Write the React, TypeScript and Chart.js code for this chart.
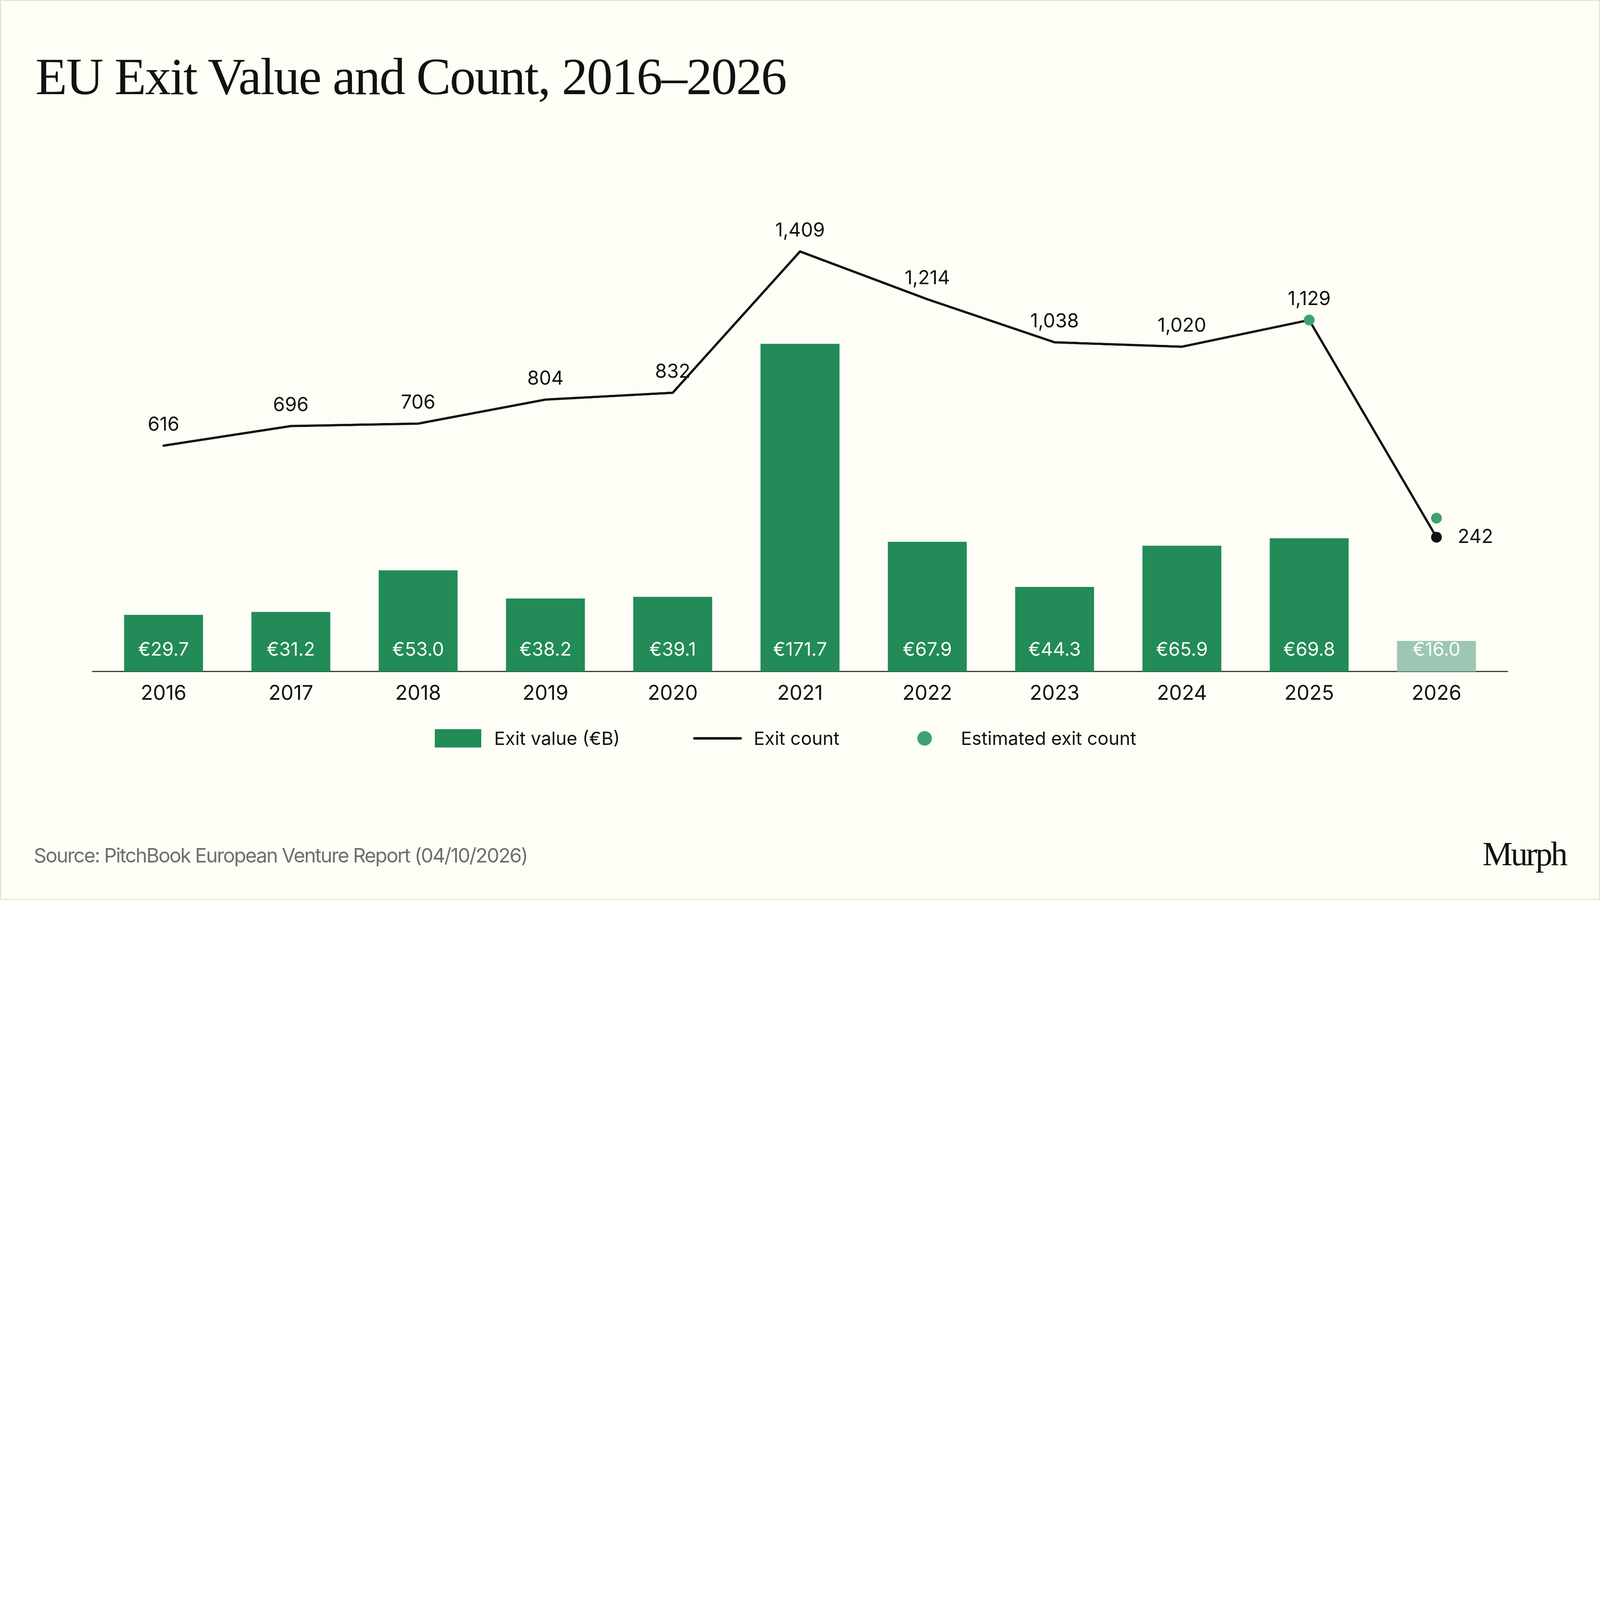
import React, { useEffect, useRef, useState } from 'react';
import Chart from 'chart.js/auto';

// values
const years = ['2016', '2017', '2018', '2019', '2020', '2021', '2022', '2023', '2024', '2025', '2026'];
const exitValue = [29.7, 31.2, 53.0, 38.2, 39.1, 171.7, 67.9, 44.3, 65.9, 69.8, 16.0];
const exitCount = [616, 696, 706, 804, 832, 1409, 1214, 1038, 1020, 1129, 242];
const estimatedCount = [null, null, null, null, null, null, null, null, null, 1129, 320];
const seriesLabels = ['Exit value (€B)', 'Exit count', 'Estimated exit count'];

const GREEN = '#228b57';
const GREEN_LIGHT = '#9dc7b2';
const DOT_GREEN = '#3fa173';
const INK = '#111111';
const CREAM = '#fefef6';
const SANS = 'Inter, "Noto Sans", sans-serif';
const SERIF = '"Liberation Serif", "DejaVu Serif", serif';

// the design is laid out on a 7680 x 4320 board and scaled to the window
const BOARD_W = 7680;
const BOARD_H = 4320;

const lastIndex = years.length - 1;

const labelPlugin = {
  id: 'valueLabels',
  beforeDatasetsDraw(chart: any) {
    // baseline rule under the bars, a bit wider than the plot area
    const { ctx, chartArea } = chart;
    const y = chart.scales.y.getPixelForValue(0);
    ctx.save();
    ctx.strokeStyle = '#222222';
    ctx.lineWidth = 5;
    ctx.beginPath();
    ctx.moveTo(chartArea.left - 38, y);
    ctx.lineTo(chartArea.right + 38, y);
    ctx.stroke();
    ctx.restore();
  },
  afterDatasetsDraw(chart: any) {
    const ctx = chart.ctx;
    const base = chart.scales.y.getPixelForValue(0);
    ctx.save();
    ctx.textBaseline = 'middle';
    ctx.font = `400 90px ${SANS}`;
    ctx.textAlign = 'center';
    ctx.fillStyle = '#ffffff';
    chart.getDatasetMeta(0).data.forEach((bar: any, i: number) => {
      ctx.fillText(`€${exitValue[i].toFixed(1)}`, bar.x, base - 103);
    });
    ctx.fillStyle = INK;
    ctx.font = `400 92px ${SANS}`;
    chart.getDatasetMeta(1).data.forEach((pt: any, i: number) => {
      const text = exitCount[i].toLocaleString('en-US');
      if (i === lastIndex) {
        ctx.textAlign = 'left';
        ctx.fillText(text, pt.x + 102, pt.y);
      } else {
        ctx.textAlign = 'center';
        ctx.fillText(text, pt.x, pt.y - 100);
      }
    });
    ctx.restore();
  },
};

const ExitChart = () => {
  const canvasRef = useRef<HTMLCanvasElement>(null);

  useEffect(() => {
    const canvas = canvasRef.current;
    let chart: Chart | null = null;

    if (canvas) {
      chart = new Chart(canvas, {
        type: 'bar',
        data: {
          labels: years,
          datasets: [
            {
              type: 'line' as const,
              label: seriesLabels[2],
              data: estimatedCount,
              yAxisID: 'y1',
              showLine: false,
              pointRadius: 26,
              pointBackgroundColor: DOT_GREEN,
              pointBorderWidth: 0,
              order: 0,
            },
            {
              type: 'line' as const,
              label: seriesLabels[1],
              data: exitCount,
              yAxisID: 'y1',
              borderColor: INK,
              borderWidth: 11,
              borderCapStyle: 'round',
              borderJoinStyle: 'miter',
              tension: 0,
              pointRadius: years.map((_, i) => (i === lastIndex ? 26 : 0)),
              pointBackgroundColor: INK,
              pointBorderWidth: 0,
              order: 1,
            },
            {
              type: 'bar' as const,
              label: seriesLabels[0],
              data: exitValue,
              yAxisID: 'y',
              backgroundColor: years.map((_, i) => (i === lastIndex ? GREEN_LIGHT : GREEN)),
              borderWidth: 0,
              categoryPercentage: 1,
              barPercentage: 0.62,
              order: 2,
            },
          ] as any,
        },
        options: {
          responsive: false,
          devicePixelRatio: 1,
          animation: false,
          layout: {
            padding: { left: 479.5, right: 479.5, top: 841.4, bottom: 882.6 },
          },
          plugins: {
            legend: { display: false },
            tooltip: { enabled: false },
          },
          scales: {
            x: {
              grid: { display: false, drawTicks: false },
              border: { display: false },
              ticks: {
                color: INK,
                padding: 49,
                font: { family: SANS, size: 97, lineHeight: 1.2 },
              },
            },
            y: { display: false, min: 0, max: 260 },
            y1: { display: false, min: -306.3, max: 1720.1 },
          },
        },
        plugins: [labelPlugin],
      });
    }

    return () => {
      if (chart) {
        chart.destroy();
      }
    };
  }, []);

  // legend built from the series labels and colours
  const textStyle: React.CSSProperties = {
    position: 'absolute',
    top: 3500,
    fontFamily: SANS,
    fontSize: 88,
    lineHeight: 1,
    color: INK,
    whiteSpace: 'nowrap',
  };

  return (
    <div style={{ position: 'relative', width: BOARD_W, height: BOARD_H, background: '#e4e4da', overflow: 'hidden' }}>
      <div style={{ position: 'absolute', left: 6, top: 5, right: 5, bottom: 5, background: CREAM }} />
      <canvas
        ref={canvasRef}
        width={BOARD_W}
        height={BOARD_H}
        style={{ position: 'absolute', left: 0, top: 0, width: BOARD_W, height: BOARD_H }}
      />
      <div
        style={{
          position: 'absolute',
          left: 170,
          top: 243,
          fontFamily: SERIF,
          fontSize: 249,
          lineHeight: 1,
          letterSpacing: '-0.02em',
          color: INK,
          whiteSpace: 'nowrap',
        }}
      >
        EU Exit Value and Count, 2016–2026
      </div>

      <div style={{ position: 'absolute', left: 2087, top: 3500, width: 223, height: 88, background: GREEN }} />
      <div style={{ ...textStyle, left: 2372 }}>{seriesLabels[0]}</div>
      <div style={{ position: 'absolute', left: 3327, top: 3538, width: 234, height: 12, background: INK, borderRadius: 6 }} />
      <div style={{ ...textStyle, left: 3618 }}>{seriesLabels[1]}</div>
      <div style={{ position: 'absolute', left: 4403, top: 3509, width: 70, height: 70, borderRadius: '50%', background: DOT_GREEN }} />
      <div style={{ ...textStyle, left: 4612 }}>{seriesLabels[2]}</div>

      <div
        style={{
          position: 'absolute',
          left: 162,
          top: 4058,
          fontFamily: SANS,
          fontSize: 95,
          lineHeight: 1,
          letterSpacing: '-0.045em',
          color: '#6e6e6e',
          whiteSpace: 'nowrap',
        }}
      >
        Source: PitchBook European Venture Report (04/10/2026)
      </div>
      <div
        style={{
          position: 'absolute',
          left: 7116,
          top: 4019,
          fontFamily: SERIF,
          fontSize: 162,
          lineHeight: 1,
          letterSpacing: '-0.05em',
          color: INK,
          whiteSpace: 'nowrap',
        }}
      >
        Murph
      </div>
    </div>
  );
};

export default function App() {
  const [scale, setScale] = useState(1);

  useEffect(() => {
    document.body.style.margin = '0';
    const fit = () => setScale(Math.min(window.innerWidth / BOARD_W, window.innerHeight / BOARD_H));
    fit();
    window.addEventListener('resize', fit);
    return () => window.removeEventListener('resize', fit);
  }, []);

  return (
    <div style={{ width: BOARD_W * scale, height: BOARD_H * scale, overflow: 'hidden' }}>
      <div style={{ transform: `scale(${scale})`, transformOrigin: '0 0', width: BOARD_W, height: BOARD_H }}>
        <ExitChart />
      </div>
    </div>
  );
}
